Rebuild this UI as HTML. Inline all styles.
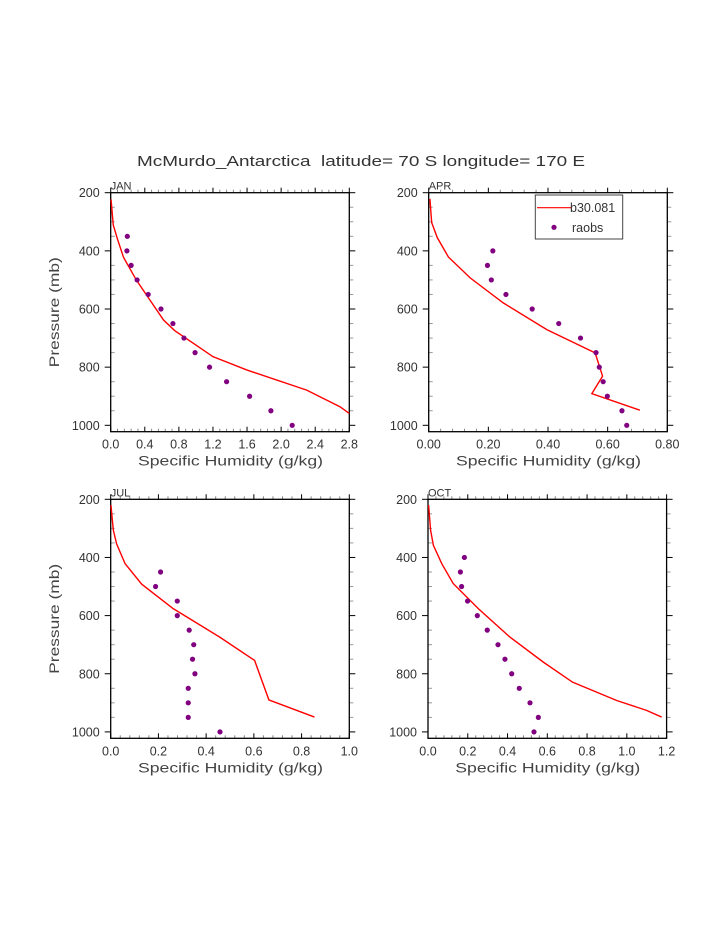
<!DOCTYPE html>
<html><head><meta charset="utf-8"><style>
body{margin:0;background:#fff;}
svg{display:block;font-family:"Liberation Sans",sans-serif;}
</style></head><body>
<svg id="fig" width="723" height="935" viewBox="0 0 723 935" xmlns="http://www.w3.org/2000/svg">
<rect width="723" height="935" fill="#fff"/>
<text x="137" y="166" font-size="15" fill="#333" textLength="448" lengthAdjust="spacingAndGlyphs" style="white-space:pre">McMurdo_Antarctica  latitude= 70 S longitude= 170 E</text>
</svg>
<script>
const janModelX=[0.004,0.03,0.08,0.15,0.30,0.46,0.62,0.75,0.97,1.20,1.60,2.30,2.69,2.80];
const janModelP=[223,311,360,422,500,569,638,674,718,764,810,879,936,959];
const janObsX=[0.195,0.19,0.24,0.31,0.44,0.59,0.73,0.86,0.99,1.16,1.36,1.63,1.88,2.13];
const janObsP=[350,400,450,500,550,600,650,700,750,800,850,900,950,1000];
const aprModelX=[0.004,0.010,0.029,0.066,0.139,0.250,0.396,0.558,0.583,0.547,0.708];
const aprModelP=[221,303,355,421,493,579,671,751,831,891,948];
const aprObsX=[0.215,0.197,0.210,0.259,0.347,0.436,0.509,0.561,0.572,0.585,0.599,0.648,0.664];
const aprObsP=[400,450,500,550,600,650,700,750,800,850,900,950,1000];
const julModelX=[0.001,0.011,0.025,0.06,0.13,0.262,0.457,0.603,0.663,0.854];
const julModelP=[220,306,354,421,492,576,674,754,890,949];
const julObsX=[0.209,0.188,0.279,0.279,0.329,0.348,0.343,0.353,0.325,0.325,0.325,0.458];
const julObsP=[450,500,550,600,650,700,750,800,850,900,950,1000];
const octModelX=[0.003,0.013,0.027,0.069,0.127,0.253,0.412,0.580,0.727,0.949,1.099,1.175];
const octModelP=[220,306,358,421,490,576,674,760,829,892,926,949];
const octObsX=[0.183,0.163,0.169,0.199,0.248,0.298,0.352,0.387,0.421,0.459,0.513,0.555,0.533];
const octObsP=[400,450,500,550,600,650,700,750,800,850,900,950,1000];
const pTicks=[200,400,600,800,1000];
const janXTicks=["0.0","0.4","0.8","1.2","1.6","2.0","2.4","2.8"];
const aprXTicks=["0.00","0.20","0.40","0.60","0.80"];
const julXTicks=["0.0","0.2","0.4","0.6","0.8","1.0"];
const octXTicks=["0.0","0.2","0.4","0.6","0.8","1.0","1.2"];

const NS="http://www.w3.org/2000/svg";
const svg=document.getElementById('fig');
function mk(tag,attrs,parent){const e=document.createElementNS(NS,tag);for(const k in attrs)e.setAttribute(k,attrs[k]);(parent||svg).appendChild(e);return e;}

function panel(name,L,T,xmax,xTicks,mx,mp,ox,op,showY,legend){
  const W=238.6,H=239,pmin=200,pmax=1022;
  const g=mk('g',{});
  
  
  const xs=v=>L+v/xmax*W, ys=p=>T+(p-pmin)/(pmax-pmin)*H;
  const nMaj=xTicks.length-1;
  for(let i=0;i<=nMaj*5;i++){const x=L+i*W/(nMaj*5);
    const maj=i%5===0;
    mk('line',{x1:x,y1:T,x2:x,y2:T-(maj?5:3),stroke:maj?'#000':'#888','stroke-width':1},g);
    mk('line',{x1:x,y1:T+H,x2:x,y2:T+H-(maj?5:3),stroke:maj?'#000':'#888','stroke-width':1},g);}
  for(let p=200;p<=1000;p+=50){const y=ys(p);const maj=p%200===0;
    if(maj){mk('line',{x1:L-6,y1:y,x2:L,y2:y,stroke:'#000'},g);mk('line',{x1:L+W,y1:y,x2:L+W+6,y2:y,stroke:'#000'},g);}
    else{mk('line',{x1:L,y1:y,x2:L+4,y2:y,stroke:'#999'},g);mk('line',{x1:L+W,y1:y,x2:L+W+4,y2:y,stroke:'#999'},g);}}
  const box=mk('rect',{x:L,y:T,width:W,height:H,fill:'none',stroke:'#000','stroke-width':1.3},g);
  
  
  xTicks.forEach((t,i)=>{const tx=mk('text',{x:xs(parseFloat(t)),y:T+H+17,'text-anchor':'middle','font-size':12.5,fill:'#333'},g);tx.textContent=t;
    
    });
  pTicks.forEach(p=>{const tx=mk('text',{x:L-11,y:ys(p)+4.5,'text-anchor':'end','font-size':12.5,fill:'#333'},g);tx.textContent=p;
    
    });
  const xt=mk('text',{x:L+W/2-92,y:T+H+34,'font-size':14,fill:'#444',textLength:185,lengthAdjust:'spacingAndGlyphs'},g);xt.textContent='Specific Humidity (g/kg)';
  
  
  if(showY){const yt=mk('text',{x:-55,y:0,'font-size':14,fill:'#444',textLength:110,lengthAdjust:'spacingAndGlyphs',transform:`translate(59,${T+H/2}) rotate(-90)`},g);yt.textContent='Pressure (mb)';
    
    }
  const lb=mk('text',{x:L,y:T-3,'font-size':11,fill:'#333'},g);lb.textContent=name.toUpperCase();
  
  
  const line=mk('polyline',{points:mx.map((v,i)=>xs(v)+','+ys(mp[i])).join(' '),fill:'none',stroke:'#ff0000','stroke-width':1.4},g);
  
  
  ox.forEach((v,i)=>{const c=mk('circle',{cx:xs(v),cy:ys(op[i]),r:2.6,fill:'#800080'},g);
    
    });
  if(legend){const lg=mk('g',{},g);
    
    
    mk('rect',{x:535.3,y:195,width:87.4,height:44,fill:'#fff',stroke:'#444'},lg);
    const l1=mk('line',{x1:537,y1:207.7,x2:571,y2:207.7,stroke:'#ff0000','stroke-width':1.2},lg);
    
    
    const t1=mk('text',{x:570,y:212,'font-size':12.5,fill:'#333'},lg);t1.textContent='b30.081';
    const c2=mk('circle',{cx:554,cy:227.3,r:2.6,fill:'#800080'},lg);
    
    
    const t2=mk('text',{x:572,y:232,'font-size':12.5,fill:'#333'},lg);t2.textContent='raobs';}
}
panel('jan',110.7,192.7,2.8,janXTicks,janModelX,janModelP,janObsX,janObsP,true,false);
panel('apr',428.7,192.7,0.8,aprXTicks,aprModelX,aprModelP,aprObsX,aprObsP,false,true);
panel('jul',110.7,499.3,1.0,julXTicks,julModelX,julModelP,julObsX,julObsP,true,false);
panel('oct',428.0,499.3,1.2,octXTicks,octModelX,octModelP,octObsX,octObsP,false,false);
</script>
</body></html>
